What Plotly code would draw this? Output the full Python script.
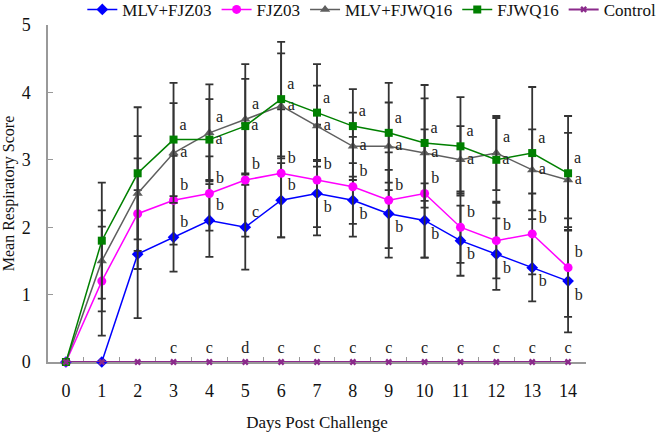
import plotly.graph_objects as go

# days post challenge
days = [str(d) for d in range(15)]

# mean respiratory scores
mlv_fjz03 = [0, 0, 1.6, 1.85, 2.1, 2.0, 2.4, 2.5, 2.4, 2.2, 2.1, 1.8, 1.6, 1.4, 1.2]
fjz03 = [0, 1.2, 2.2, 2.4, 2.5, 2.7, 2.8, 2.7, 2.6, 2.4, 2.5, 2.0, 1.8, 1.9, 1.4]
mlv_fjwq16 = [0, 1.5, 2.5, 3.1, 3.4, 3.6, 3.8, 3.5, 3.2, 3.2, 3.1, 3.0, 3.1, 2.85, 2.7]
fjwq16 = [0, 1.8, 2.8, 3.3, 3.3, 3.5, 3.9, 3.7, 3.5, 3.4, 3.25, 3.2, 3.0, 3.1, 2.8]
control = [0] * 15

# standard deviations (error bars)
mlv_fjz03_sd = [0, 0, 0.95, 0.51, 0.54, 0.63, 0.55, 0.5, 0.35, 0.65, 0.55, 0.52, 0.53, 0.5, 0.76]
fjz03_sd = [0, 0.81, 0.82, 0.66, 0.55, 0.84, 0.95, 0.82, 0.74, 0.71, 0.95, 0.53, 0.56, 0.6, 0.73]
mlv_fjwq16_sd = [0, 0.75, 0.85, 0.74, 0.72, 0.82, 0.78, 0.6, 0.5, 0.65, 0.81, 0.5, 0.55, 0.6, 0.7]
fjwq16_sd = [0, 0.86, 0.98, 0.84, 0.6, 0.7, 0.85, 0.72, 0.55, 0.74, 0.86, 0.73, 0.62, 0.98, 0.85]

# significance letters
mlv_fjz03_sig = ["", "", "", "b", "b", "c", "b", "b", "b", "b", "b", "b", "b", "b", "b"]
fjz03_sig = ["", "", ""] + ["b"] * 12
mlv_fjwq16_sig = ["", "", ""] + ["a"] * 12
fjwq16_sig = ["", "", ""] + ["a"] * 12
control_sig = ["", "", "", "c", "c", "d", "c", "c", "c", "c", "c", "c", "c", "c", "c"]

FONT = "Liberation Serif, Times New Roman, serif"
ERR = "#333333"


def letter_pos(mine, other):
    # higher series keeps its letter above, the lower one sits beside its marker
    return ["top right" if a >= b else "middle right" for a, b in zip(mine, other)]


green_pos = letter_pos(fjwq16, mlv_fjwq16)
grey_pos = letter_pos(mlv_fjwq16, fjwq16)
blue_pos = ["top right" if i <= 6 else "bottom right" for i in range(15)]


def series(name, y, sd, sig, color, symbol, size, pos):
    return go.Scatter(
        x=days, y=y, name=name, mode="lines+markers+text",
        text=sig, textposition=pos, cliponaxis=False,
        textfont=dict(family=FONT, size=16, color="#222"),
        line=dict(color=color, width=1.5),
        marker=dict(color=color, symbol=symbol, size=size),
        error_y=dict(type="data", array=sd, visible=True,
                     color=ERR, thickness=1.8, width=4),
    )


fig = go.Figure()
fig.add_trace(series("MLV+FJZ03", mlv_fjz03, mlv_fjz03_sd, mlv_fjz03_sig,
                     "#0000ff", "diamond", 9, blue_pos))
fig.add_trace(series("FJZ03", fjz03, fjz03_sd, fjz03_sig,
                     "#ff00ff", "circle", 9, "top right"))
fig.add_trace(series("MLV+FJWQ16", mlv_fjwq16, mlv_fjwq16_sd, mlv_fjwq16_sig,
                     "#5f5f5f", "triangle-up", 9, grey_pos))
fig.add_trace(series("FJWQ16", fjwq16, fjwq16_sd, fjwq16_sig,
                     "#008000", "square", 8, green_pos))
fig.add_trace(go.Scatter(
    x=days, y=control, name="Control", mode="lines+markers+text",
    text=control_sig, textposition="top center", cliponaxis=False,
    textfont=dict(family=FONT, size=16, color="#222"),
    line=dict(color="#8b2a8b", width=2),
    marker=dict(color="#8b2a8b", symbol="x", size=6),
))

fig.update_layout(
    width=663, height=435,
    margin=dict(l=48, r=77, t=25, b=73, autoexpand=False),
    paper_bgcolor="white", plot_bgcolor="white",
    font=dict(family=FONT, size=18, color="#111"),
    showlegend=True,
    legend=dict(orientation="h", x=1.14, xanchor="right", y=1.045, yanchor="middle",
                font=dict(family=FONT, size=17), itemwidth=30,
                tracegroupgap=0, bgcolor="rgba(0,0,0,0)"),
    xaxis=dict(
        type="category", range=[-0.5, 14.5], tickson="boundaries",
        ticks="inside", ticklen=5, tickcolor="#999",
        showline=True, linecolor="#999", linewidth=1.5, layer="below traces",
        showgrid=False, zeroline=False, ticklabelstandoff=12,
        tickfont=dict(family=FONT, size=18),
        title=dict(text="Days Post Challenge", font=dict(family=FONT, size=17), standoff=16),
    ),
    yaxis=dict(
        range=[0, 5], dtick=1, ticks="inside", ticklen=5, tickcolor="#999",
        showline=True, linecolor="#999", linewidth=1.5, layer="below traces",
        showgrid=False, zeroline=False, ticklabelstandoff=12,
        tickfont=dict(family=FONT, size=18),
        title=dict(text="Mean Respiratory Score", font=dict(family=FONT, size=16), standoff=6),
    ),
)

fig.write_html("out.html", config={"displayModeBar": False},
               post_script="document.body.style.margin='0';")
